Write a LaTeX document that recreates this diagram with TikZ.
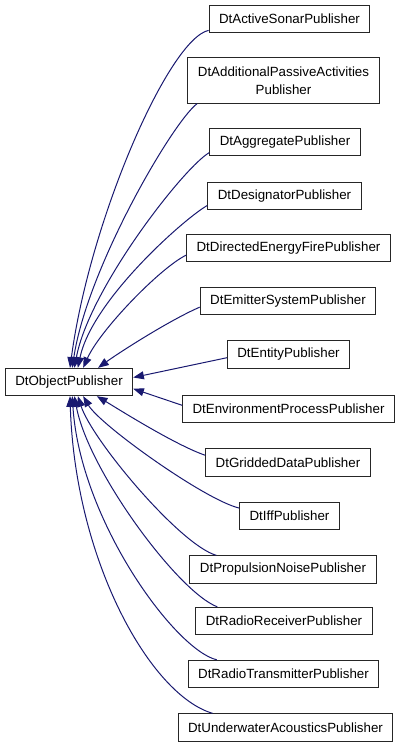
\documentclass[tikz,border=0pt]{standalone}
\usepackage{fontspec}
\setmainfont{Liberation Sans}
\usetikzlibrary{arrows.meta}
\definecolor{midnight}{HTML}{191970}
\tikzset{
  cls/.style={draw=black!85,line width=0.75pt,fill=white,inner xsep=7.5pt,inner ysep=0pt,
    minimum height=20.5pt,font=\fontsize{10}{13.5}\selectfont},
  inh/.style={midnight,line width=0.75pt,-{Triangle[length=8pt,width=6pt]}},
}
\begin{document}
\begin{tikzpicture}[x=0.75pt,y=-0.75pt]
\useasboundingbox (0,0) rectangle (403,749);
% base class
\node[cls] (objpub) at (69,382) {DtObjectPublisher};
% derived classes
\node[cls] (sonar) at (289.5,19) {DtActiveSonarPublisher};
\node[cls,align=center,minimum height=34pt] (passive) at (283.5,80.5) {DtAdditionalPassiveActivities\\Publisher};
\node[cls] (aggregate) at (285,142) {DtAggregatePublisher};
\node[cls] (designator) at (284.5,196) {DtDesignatorPublisher};
\node[cls] (energy) at (288.5,248) {DtDirectedEnergyFirePublisher};
\node[cls] (emitter) at (288,301) {DtEmitterSystemPublisher};
\node[cls] (entity) at (288.5,354.5) {DtEntityPublisher};
\node[cls] (environ) at (288.5,409) {DtEnvironmentProcessPublisher};
\node[cls] (gridded) at (288,462.5) {DtGriddedDataPublisher};
\node[cls] (iff) at (289.5,516) {DtIffPublisher};
\node[cls] (propulsion) at (283,569.5) {DtPropulsionNoisePublisher};
\node[cls] (receiver) at (284,621) {DtRadioReceiverPublisher};
\node[cls] (transmitter) at (283.5,674) {DtRadioTransmitterPublisher};
\node[cls] (underwater) at (285.5,727.5) {DtUnderwaterAcousticsPublisher};
% inheritance edges
\draw[inh] (sonar.188) .. controls (169,39) and (90,219) .. (objpub.86);
\draw[inh] (passive.195) .. controls (172,123) and (87,269) .. (objpub.77);
\draw[inh] (aggregate.188) .. controls (184,167) and (89,289) .. (objpub.69);
\draw[inh] (designator.187) .. controls (185,218) and (92,300) .. (objpub.58);
\draw[inh] (energy.184.5) .. controls (160,268) and (100,330) .. (objpub.45);
\draw[inh] (emitter.184.5) .. controls (170,320) and (120,352) .. (objpub.26.6);
\draw[inh] (entity.183) -- (objpub.4.5);
\draw[inh] (environ.178) -- (objpub.354.6);
\draw[inh] (gridded.175) .. controls (175,445) and (115,407) .. (objpub.333.4);
\draw[inh] (iff.171) .. controls (205,500) and (100,425) .. (objpub.315);
\draw[inh] (propulsion.168) .. controls (180,545) and (92,440) .. (objpub.302);
\draw[inh] (receiver.168) .. controls (178,592) and (88,470) .. (objpub.291);
\draw[inh] (transmitter.168) .. controls (175,650) and (80,520) .. (objpub.283);
\draw[inh] (underwater.169) .. controls (150,695) and (75,560) .. (objpub.274);
\end{tikzpicture}
\end{document}
